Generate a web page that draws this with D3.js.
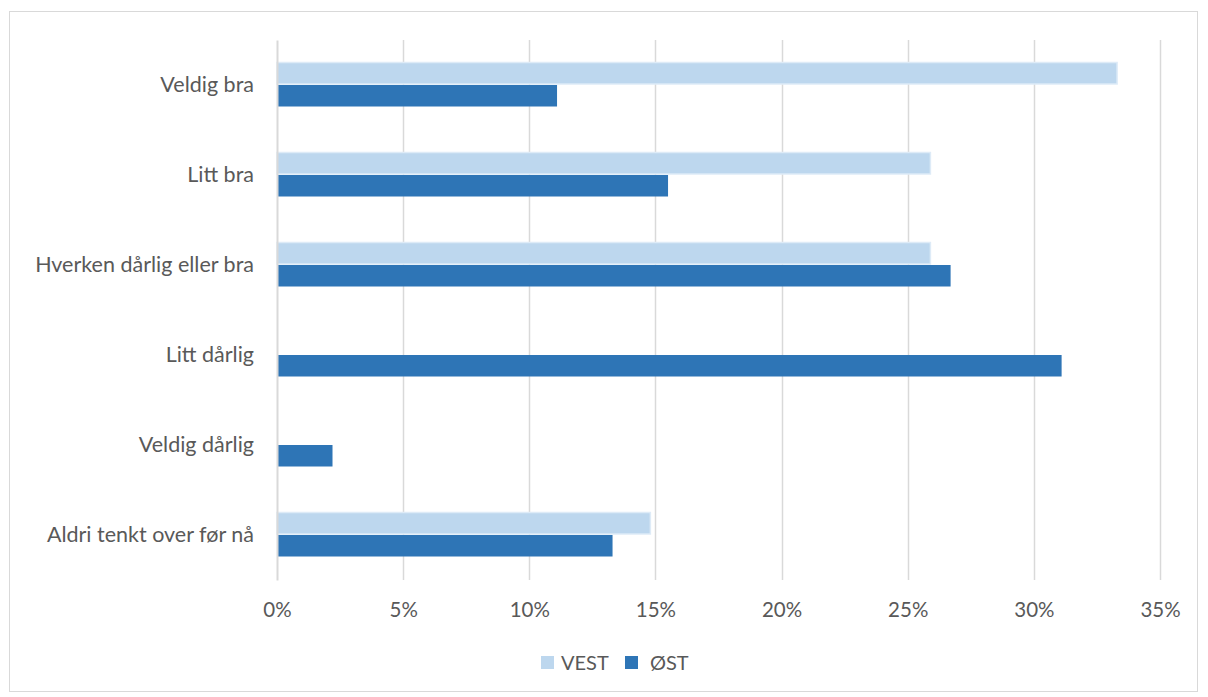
<!DOCTYPE html>
<html><head><meta charset="utf-8">
<script src="https://cdn.jsdelivr.net/npm/d3@7"></script>
<style>body{margin:0;background:#fff;} svg{display:block;font-family:Lato,"Open Sans",sans-serif;}</style>
</head><body>
<script>
const categories = ["Veldig bra", "Litt bra", "Hverken dårlig eller bra", "Litt dårlig", "Veldig dårlig", "Aldri tenkt over før nå"];
const seriesNames = ["VEST", "ØST"];
const vest = [33.3, 25.9, 25.9, 0, 0, 14.8];
const ost = [11.1, 15.5, 26.7, 31.1, 2.2, 13.3];
const xTicks = [0, 5, 10, 15, 20, 25, 30, 35];
const colors = {VEST: "#BDD7EE", "ØST": "#2E75B6"};

const W = 1208, H = 697;
const m = {left: 277, right: 48, top: 40, bottom: 117};
const svg = d3.select("body").append("svg").attr("width", W).attr("height", H);
svg.append("rect").attr("x", 9.5).attr("y", 11.5).attr("width", 1188).attr("height", 680)
  .attr("fill", "#fff").attr("stroke", "#D9D9D9").attr("stroke-width", 1);

const x = d3.scaleLinear().domain([0, 35]).range([m.left, W - m.right]);
const y = d3.scaleBand().domain(categories).range([m.top, H - m.bottom]).paddingInner(0.5).paddingOuter(0.25);
const ys = d3.scaleBand().domain(seriesNames).range([0, y.bandwidth()]);

// gridlines
svg.append("g").selectAll("line").data(xTicks.slice(1)).join("line")
  .attr("x1", d => Math.round(x(d)) + 0.5).attr("x2", d => Math.round(x(d)) + 0.5)
  .attr("y1", m.top).attr("y2", H - m.bottom)
  .attr("stroke", "#D9D9D9").attr("stroke-width", 1.5);

// x axis labels
const xAxis = d3.axisBottom(x).tickValues(xTicks).tickFormat(d => d + "%").tickSize(0).tickPadding(22);
const gx = svg.append("g").attr("transform", `translate(0,${H - m.bottom})`).call(xAxis);
gx.select(".domain").remove();
gx.selectAll("text").attr("fill", "#595959").attr("font-size", 20.5).attr("font-family", "Lato,'Open Sans',sans-serif");

const data = categories.map((c, i) => ({cat: c, VEST: vest[i], "ØST": ost[i]}));
const g = svg.append("g");
data.forEach(d => {
  seriesNames.forEach(s => {
    if (d[s] <= 0) return;
    const r = g.append("rect")
      .attr("x", x(0)).attr("y", y(d.cat) + ys(s))
      .attr("width", x(d[s]) - x(0)).attr("height", ys.bandwidth() - 1)
      .attr("fill", colors[s]);
    if (s === "VEST") r.attr("stroke", "#DEEBF7").attr("stroke-width", 1.5);
  });
});

// y axis
const yAxis = d3.axisLeft(y).tickSize(0).tickPadding(23);
const gy = svg.append("g").attr("transform", `translate(${m.left},0)`).call(yAxis);
gy.select(".domain").attr("stroke", "#D9D9D9").attr("stroke-width", 2);
gy.selectAll("text").attr("fill", "#595959").attr("font-size", 21.5).attr("font-family", "Lato,'Open Sans',sans-serif");

// legend
const legendX = [541, 625];
const lg = svg.append("g");
seriesNames.forEach((s, i) => {
  lg.append("rect").attr("x", legendX[i]).attr("y", 656).attr("width", 13).attr("height", 13).attr("fill", colors[s]);
  lg.append("text").attr("x", legendX[i] + (i === 0 ? 20 : 25)).attr("y", 663).attr("dy", "0.35em")
    .attr("fill", "#595959").attr("font-size", 20).text(s);
});
</script>
</body></html>
